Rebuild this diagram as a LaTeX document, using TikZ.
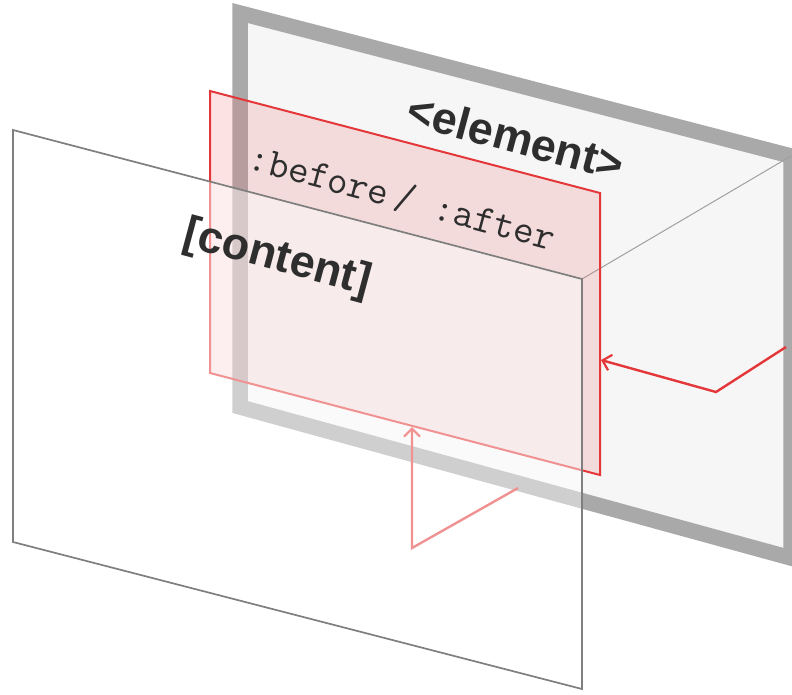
\documentclass[tikz,border=0pt]{standalone}
\usepackage{fontspec}
\setsansfont{Liberation Sans}
\usetikzlibrary{arrows.meta}
\definecolor{framegray}{HTML}{A9A9A9}
\definecolor{paneback}{HTML}{F6F6F6}
\definecolor{pseudored}{HTML}{E4373A}
\definecolor{pseudofill}{HTML}{F07070}
\definecolor{edgegray}{HTML}{7F7F7F}
\definecolor{sidegray}{HTML}{A0A0A0}
\definecolor{labeltext}{HTML}{2E2E2E}
\newcommand{\plane}[5]{\draw[#1] (#2) -- (#3) -- (#4) -- (#5) -- cycle;}

\tikzset{
	elemframe/.style={draw=framegray, line width=15.5pt, fill=paneback, line join=miter},
	pseudoplane/.style={draw=pseudored, line width=2pt, fill=pseudofill, fill opacity=0.2},
	contentplane/.style={draw=edgegray, line width=1.7pt, fill=white, fill opacity=0.45},
	sideedge/.style={draw=sidegray, line width=1pt},
	pseudoarrow/.style={draw=pseudored, line width=2.4pt, line join=miter,
		-{Straight Barb[length=8pt,width=16pt,line width=2.2pt]}},
	boldlabel/.style={text=labeltext, font=\sffamily\bfseries\fontsize{45}{50}\selectfont, rotate=-15, inner sep=0pt},
	monolabel/.style={text=labeltext, font=\ttfamily\fontsize{40}{44}\selectfont, rotate=-15, inner sep=0pt}
}

\begin{document}
\begin{tikzpicture}[x=1pt,y=-1pt]
	\useasboundingbox (0,0) rectangle (792,694);
	
	% element box
	\coordinate (e-tl) at (240,13);
	\coordinate (e-tr) at (791,156);
	\coordinate (e-br) at (791,558);
	\coordinate (e-bl) at (240,407);
	% pseudo element plane
	\coordinate (p-tl) at (210,91);
	\coordinate (p-tr) at (600,193);
	\coordinate (p-br) at (600,475);
	\coordinate (p-bl) at (210,373);
	% content plane
	\coordinate (c-tl) at (13,130);
	\coordinate (c-tr) at (582,279);
	\coordinate (c-br) at (582,689);
	\coordinate (c-bl) at (13,542);
	
	\plane{elemframe}{e-tl}{e-tr}{e-br}{e-bl}
	\draw[sideedge] (c-tr) -- (e-tr);
	
	% arrows into the pseudo element
	\coordinate (r-start) at (786,347);
	\coordinate (r-bend) at (716,392);
	\coordinate (r-tip) at (601,360);
	\coordinate (b-start) at (518,488);
	\coordinate (b-bend) at (412,548);
	\coordinate (b-tip) at (412,427);
	\draw[pseudoarrow] (r-start) -- (r-bend) -- (r-tip);
	\draw[pseudoarrow] (b-start) -- (b-bend) -- (b-tip);
	
	\plane{pseudoplane}{p-tl}{p-tr}{p-br}{p-bl}
	
	\node[boldlabel] (element) at (516,137) {<element>};
	\node[monolabel] (pseudo) at (402,198) {:before\,/ :after};
	
	\plane{contentplane}{c-tl}{c-tr}{c-br}{c-bl}
	
	\node[boldlabel] (content) at (277,259) {[content]};
\end{tikzpicture}
\end{document}
